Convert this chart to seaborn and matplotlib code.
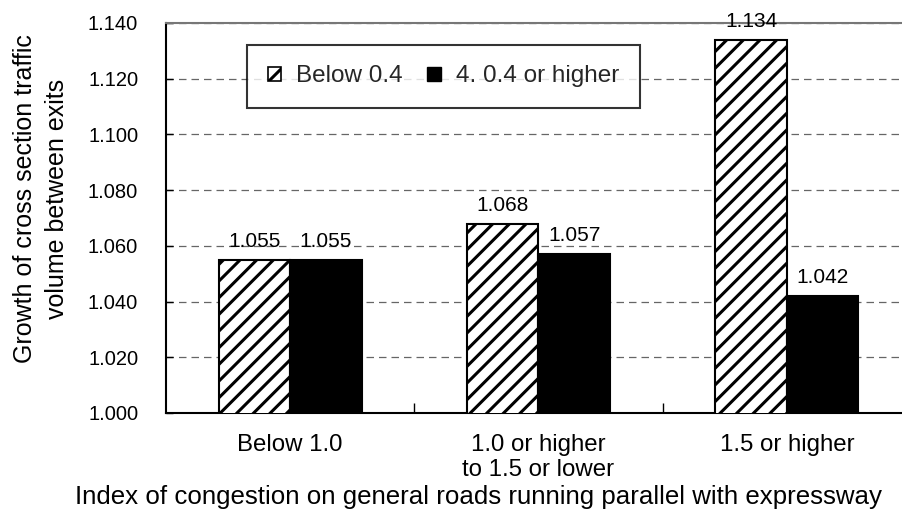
import matplotlib
matplotlib.use("Agg")
import matplotlib.pyplot as plt
import seaborn as sns
import pandas as pd
from matplotlib.patches import Patch

categories = ["Below 1.0", "1.0 or higher\nto 1.5 or lower", "1.5 or higher"]
series_names = ["Below 0.4", "4. 0.4 or higher"]
below_04 = [1.055, 1.068, 1.134]
above_04 = [1.055, 1.057, 1.042]
y_ticks = [1.000, 1.020, 1.040, 1.060, 1.080, 1.100, 1.120, 1.140]

df = pd.DataFrame({
    "category": categories * 2,
    "group": [series_names[0]] * 3 + [series_names[1]] * 3,
    "value": below_04 + above_04,
})

sns.set_theme(style="white")
plt.rcParams["font.family"] = ["Liberation Sans", "DejaVu Sans"]
plt.rcParams["hatch.linewidth"] = 2.2

fig = plt.figure(figsize=(9.03, 5.18), dpi=100)
W, H = 903, 518
ax = fig.add_axes([166 / W, (H - 413) / H, (911 - 166) / W, 390 / H])

sns.barplot(data=df, x="category", y="value", hue="group",
            palette=["white", "black"], width=0.575, edgecolor="black",
            linewidth=1.5, ax=ax, legend=False, zorder=3)

for bar in ax.containers[0]:
    bar.set_hatch("//")
    bar.set_edgecolor("black")

for cont in ax.containers:
    ax.bar_label(cont, fmt="%.3f", padding=6.5, fontsize=15, color="black")

ax.set_ylim(1.0, 1.14)
ax.set_xlim(-0.5, 2.5)
ax.set_yticks(y_ticks)
ax.set_yticklabels([f"{t:.3f}" for t in y_ticks])
ax.yaxis.grid(True, linestyle=(0, (6, 4)), color="#666666", linewidth=0.9, zorder=0)
ax.set_axisbelow(True)

ax.set_xticks([0, 1, 2])
ax.set_xticklabels(categories)
ax.set_xticks([0.5, 1.5], minor=True)
ax.tick_params(axis="x", which="major", length=0, pad=15, labelsize=17.3, colors="black")
ax.tick_params(axis="x", which="minor", direction="in", length=7, width=1, color="black", bottom=True)
ax.tick_params(axis="y", direction="in", length=5, width=1, pad=20, labelsize=14.5, colors="black", left=True)

for side in ["left", "bottom"]:
    ax.spines[side].set_color("black")
    ax.spines[side].set_linewidth(1.5)
ax.spines["top"].set_color("#777777")
ax.spines["top"].set_linewidth(1.5)
ax.spines["right"].set_visible(False)

ax.set_xlabel("Index of congestion on general roads running parallel with expressway",
              fontsize=18.6, color="black")
ax.xaxis.set_label_coords(0.419, -0.185)
ax.set_ylabel("Growth of cross section traffic\nvolume between exits",
              fontsize=18, color="black", linespacing=1.45)
ax.yaxis.set_label_coords(-0.130, 0.549)

handles = [
    Patch(facecolor="white", edgecolor="black", hatch="//", linewidth=1.2, label=series_names[0]),
    Patch(facecolor="black", edgecolor="black", label=series_names[1]),
]
leg = ax.legend(handles=handles, loc="upper left", bbox_to_anchor=(0.109, 0.944),
                ncol=2, frameon=True, fancybox=False, shadow=False, borderaxespad=0,
                handlelength=0.55, handleheight=0.55, handletextpad=0.62,
                columnspacing=1.0, borderpad=0.85, fontsize=17.5)
leg.get_frame().set_edgecolor("black")
leg.get_frame().set_linewidth(1.5)
leg.set_zorder(5)

fig.savefig("out.png", dpi=100)
